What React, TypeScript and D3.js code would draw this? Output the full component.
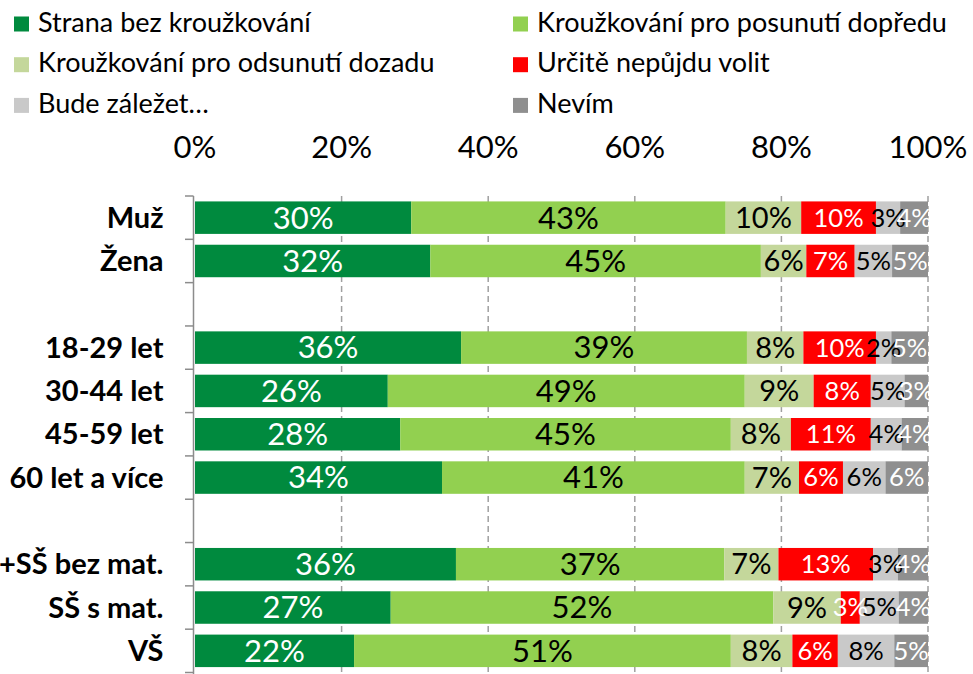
import React from 'react';
import * as d3 from 'd3';

// rows of the chart, null = empty spacer row
const categories = ['Muž', 'Žena', null, '18-29 let', '30-44 let', '45-59 let', '60 let a více', null, 'ZŠ+SŠ bez mat.', 'SŠ s mat.', 'VŠ'];

const seriesNames = [
  'Strana bez kroužkování',
  'Kroužkování pro posunutí dopředu',
  'Kroužkování pro odsunutí dozadu',
  'Určitě nepůjdu volit',
  'Bude záležet…',
  'Nevím',
];

// values in % per row (same order as categories)
const stranaBez = [29.5, 32.1, null, 36.3, 26.3, 28.0, 33.7, null, 35.6, 26.7, 21.7];
const posunuti = [42.9, 45.1, null, 39.0, 48.7, 45.1, 41.3, null, 36.6, 52.2, 51.4];
const odsunuti = [10.3, 6.2, null, 7.7, 9.4, 8.2, 7.4, null, 7.4, 9.2, 8.4];
const nepujdu = [10.2, 6.6, null, 9.9, 7.8, 10.9, 6.0, null, 12.9, 2.6, 6.2];
const zalezet = [3.3, 5.1, null, 2.1, 4.6, 4.2, 5.8, null, 3.4, 5.3, 7.7];
const nevim = [3.8, 4.9, null, 5.0, 3.2, 3.6, 5.8, null, 4.1, 4.0, 4.6];

const xTicks = [0, 20, 40, 60, 80, 100];

const colors = ['#008A3E', '#92D050', '#C4D79B', '#FF0000', '#C9C9C9', '#8F8F8F'];
const labelColors = ['#fff', '#000', '#000', '#fff', '#000', '#fff'];
const labelSizes = [31, 31, 29, 25.5, 25.5, 25.5];

const FONT = "Lato, 'Open Sans', sans-serif";

const App = () => {
  const width = 973;
  const height = 674;
  const allSeries = [stranaBez, posunuti, odsunuti, nepujdu, zalezet, nevim];

  const table = categories.map((c, i) => {
    const row: any = { idx: i, name: c };
    seriesNames.forEach((s, j) => { row[s] = allSeries[j][i] ?? 0; });
    return row;
  });

  const stacked = d3.stack().keys(seriesNames)(table);

  const x = d3.scaleLinear().domain([0, 100]).range([195, 928]);
  const y = d3.scaleBand<number>()
    .domain(categories.map((_, i) => i))
    .range([196, 672.5])
    .paddingInner(0.25)
    .paddingOuter(0.125);

  const step = y.step();
  const bw = y.bandwidth();
  const boundaries = d3.range(categories.length + 1).map(i => 196 + i * step);

  return (
    <svg width={width} height={height} style={{ position: 'absolute', left: 0, top: 0, background: '#fff' }} fontFamily={FONT}>
      {/* legend */}
      {seriesNames.map((s, i) => {
        const col = i % 2;
        const row = Math.floor(i / 2);
        const lx = col === 0 ? 14 : 513;
        const base = 31.5 + row * 40.7;
        return (
          <g key={s}>
            <rect x={lx} y={base - 15} width={15} height={15} fill={colors[i]} />
            <text x={lx + 24} y={base} fontSize={27} fill="#000">{s}</text>
          </g>
        );
      })}

      {/* top axis labels */}
      {xTicks.map(t => (
        <text key={t} x={x(t)} y={157.5} fontSize={31} textAnchor="middle" fill="#000">{t}%</text>
      ))}

      {/* grid */}
      {xTicks.filter(t => t > 0).map(t => (
        <line key={t} x1={x(t)} x2={x(t)} y1={196} y2={674} stroke="#A0A0A0" strokeWidth={1.5} strokeDasharray="6,4" />
      ))}

      {/* bars */}
      {stacked.map((ser, si) => (
        <g key={ser.key} fill={colors[si]}>
          {ser.filter(d => d.data.name !== null).map(d => (
            <rect key={d.data.idx} x={x(d[0])} y={y(d.data.idx)} width={x(d[1]) - x(d[0])} height={bw} />
          ))}
        </g>
      ))}

      {/* data labels */}
      {stacked.map((ser, si) => (
        <g key={ser.key + '-l'} fill={labelColors[si]} fontSize={labelSizes[si]} textAnchor="middle">
          {ser.filter(d => d.data.name !== null).map(d => (
            <text key={d.data.idx} x={(x(d[0]) + x(d[1])) / 2} y={(y(d.data.idx) as number) + bw / 2} dy="0.35em">
              {Math.round(d[1] - d[0])}%
            </text>
          ))}
        </g>
      ))}

      {/* left axis */}
      <line x1={193.5} x2={193.5} y1={196} y2={674} stroke="#8C8C8C" strokeWidth={1.5} />
      {boundaries.map((b, i) => (
        <line key={i} x1={185} x2={193.5} y1={b} y2={b} stroke="#8C8C8C" strokeWidth={1.5} />
      ))}

      {/* category labels */}
      {categories.map((c, i) => c === null ? null : (
        <text key={i} x={163.5} y={(y(i) as number) + bw / 2} dy="0.35em" fontSize={29} fontWeight="bold" textAnchor="end" fill="#000">{c}</text>
      ))}
    </svg>
  );
};

export default App;
